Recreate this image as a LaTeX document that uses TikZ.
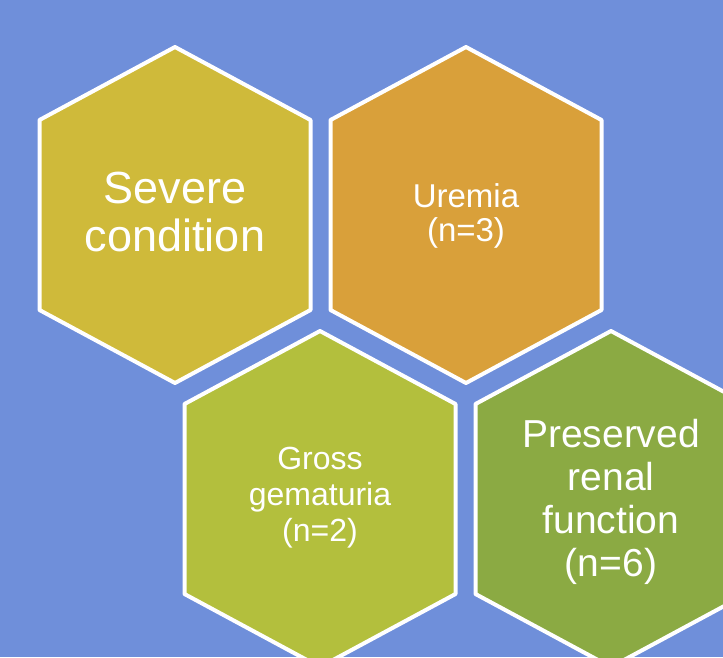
\documentclass[tikz,border=0pt]{standalone}
\usepackage{fontspec}
\setmainfont{Liberation Sans}
\definecolor{bgblue}{HTML}{6F8FDA}
\definecolor{hexone}{HTML}{CFBA3A}
\definecolor{hextwo}{HTML}{D9A03A}
\definecolor{hexthree}{HTML}{B3BF3D}
\definecolor{hexfour}{HTML}{8BAA43}
\tikzset{
  hexshape/.pic={\path[pic actions] (0,-168) -- (135.5,-95) -- (135.5,95) -- (0,168) -- (-135.5,95) -- (-135.5,-95) -- cycle;},
  hexa/.style={draw=white,line width=4pt,line join=round},
  lbl/.style={text=white,align=center,inner sep=0pt}
}
\begin{document}
\begin{tikzpicture}[x=1pt,y=-1pt]
\useasboundingbox (0,0) rectangle (723,657);
\clip (0,0) rectangle (723,657);
\fill[bgblue] (0,0) rectangle (723,657);
\pic[hexa,fill=hexone] at (175,215) {hexshape};
\pic[hexa,fill=hextwo] at (466,215) {hexshape};
\pic[hexa,fill=hexthree] at (320,499) {hexshape};
\pic[hexa,fill=hexfour] at (611,499) {hexshape};
\node[lbl,font=\fontsize{45}{48}\selectfont] (severe) at (175,212.5) {Severe\\condition};
\node[lbl,font=\fontsize{33}{34.5}\selectfont] (uremia) at (466,216) {Uremia\\(n=3)};
\node[lbl,font=\fontsize{32}{36}\selectfont] (gross) at (320,497.5) {Gross\\gematuria\\(n=2)};
\node[lbl,font=\fontsize{39}{43}\selectfont] (preserved) at (611,502) {Preserved\\renal\\function\\(n=6)};
\end{tikzpicture}
\end{document}
